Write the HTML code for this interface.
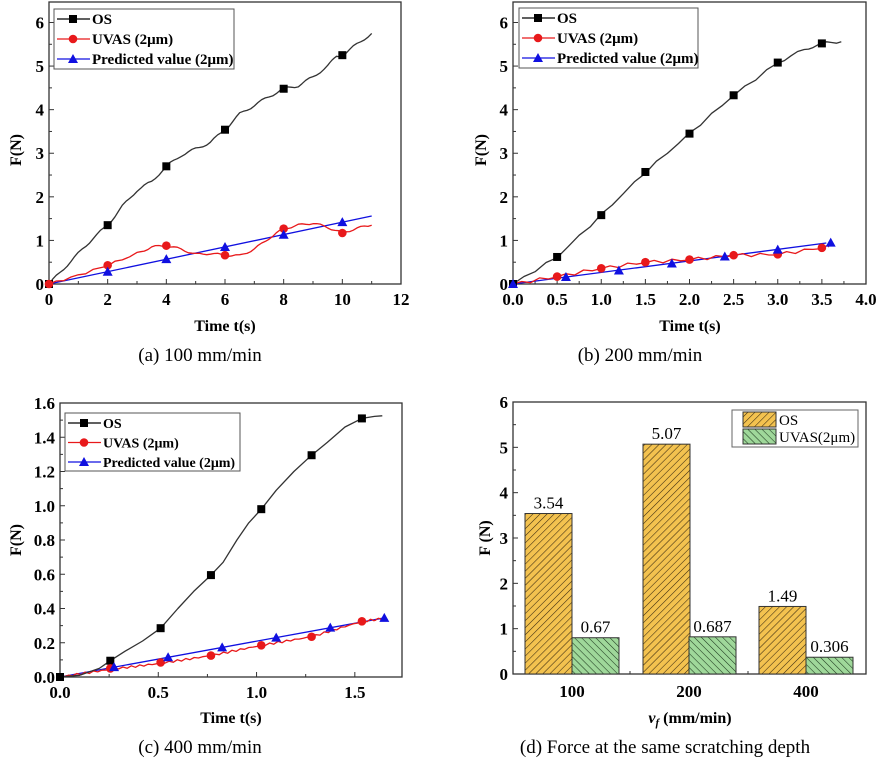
<!DOCTYPE html>
<html><head><meta charset="utf-8"><style>
body{margin:0;background:#fff;width:882px;height:782px;overflow:hidden}
svg{display:block}
text{font-family:"Liberation Serif",serif}
</style></head><body>
<svg id="s" width="882" height="782" xmlns="http://www.w3.org/2000/svg">
<defs>
<pattern id="po" patternUnits="userSpaceOnUse" width="5" height="5" patternTransform="rotate(45)"><rect width="5" height="5" fill="#f3c24f"/><line x1="0" y1="0" x2="0" y2="5" stroke="#3a2a10" stroke-width="1.1"/></pattern>
<pattern id="pu" patternUnits="userSpaceOnUse" width="5" height="5" patternTransform="rotate(-45)"><rect width="5" height="5" fill="#9fd89a"/><line x1="0" y1="0" x2="0" y2="5" stroke="#1f3a1f" stroke-width="1.1"/></pattern>
</defs>
</svg>
<script>
const S=document.getElementById('s');let h='';
function P(o){
 const {L,R,T,B,xmin,xmax,ymin,ymax,xt,yt,xdec,ydec,xminor}=o;
 const X=v=>L+(v-xmin)/(xmax-xmin)*(R-L), Y=v=>B-(v-ymin)/(ymax-ymin)*(B-T);
 h+=`<rect x="${L}" y="${T}" width="${R-L}" height="${B-T}" fill="none" stroke="#333" stroke-width="1.3"/>`;
 xt.forEach(v=>{const x=X(v);h+=`<line x1="${x}" y1="${B}" x2="${x}" y2="${B-5}" stroke="#333"/><text x="${x}" y="${B+21}" font-size="17" font-weight="bold" text-anchor="middle">${v.toFixed(xdec)}</text>`;});
 if(xminor)xt.slice(0,-1).forEach((v,i)=>{const x=X((v+xt[i+1])/2);h+=`<line x1="${x}" y1="${B}" x2="${x}" y2="${B-3}" stroke="#333"/>`;});
 yt.forEach(v=>{const y=Y(v);h+=`<line x1="${L}" y1="${y}" x2="${L+5}" y2="${y}" stroke="#333"/><text x="${L-5}" y="${y+6}" font-size="17" font-weight="bold" text-anchor="end">${v.toFixed(ydec)}</text>`;});
 yt.slice(0,-1).forEach((v,i)=>{const y=Y((v+yt[i+1])/2);h+=`<line x1="${L}" y1="${y}" x2="${L+3}" y2="${y}" stroke="#333"/>`;});
 return [X,Y];
}
function line(X,Y,pts,c,w){h+=`<polyline fill="none" stroke="${c}" stroke-width="${w||1.3}" stroke-linejoin="round" points="${pts.map(p=>X(p[0]).toFixed(1)+','+Y(p[1]).toFixed(1)).join(' ')}"/>`;}
function mk(x,y,t){if(t==0)h+=`<rect x="${x-4}" y="${y-4}" width="8" height="8" fill="#000"/>`;else if(t==1)h+=`<circle cx="${x}" cy="${y}" r="4.3" fill="#e8191b"/>`;else h+=`<polygon points="${x},${y-5} ${x-5},${y+4} ${x+5},${y+4}" fill="#1010e0"/>`;}
function mks(X,Y,pts,t){pts.forEach(p=>mk(X(p[0]),Y(p[1]),t));}
function legend(x,y,w,hh,dy,fs){
 h+=`<rect x="${x}" y="${y}" width="${w}" height="${hh}" fill="#fff" stroke="#555"/>`;
 const lab=['OS','UVAS (2μm)','Predicted value (2μm)'],col=['#000','#e8191b','#1010e0'];
 lab.forEach((l,i)=>{const yy=y+10+i*dy;h+=`<line x1="${x+3}" y1="${yy}" x2="${x+36}" y2="${yy}" stroke="${col[i]}" stroke-width="1.3"/>`;mk(x+19,yy,i);h+=`<text x="${x+38}" y="${yy+5}" font-size="${fs}" font-weight="bold" textLength="${i==0?'':''}">${l}</text>`;});
}
function wav(pts,amp,per,n){const o=[];for(let i=0;i<pts.length-1;i++){const [a,b]=[pts[i],pts[i+1]];for(let k=0;k<n;k++){const t=k/n,x=a[0]+(b[0]-a[0])*t;o.push([x,a[1]+(b[1]-a[1])*t+amp*Math.sin(x*per)]);}}o.push(pts[pts.length-1]);return o;}
let [X,Y]=P({L:49,R:401,T:2,B:284,xmin:0,xmax:12,ymin:0,ymax:6.47,xt:[0,2,4,6,8,10,12],yt:[0,1,2,3,4,5,6],xdec:0,ydec:0,xminor:1});
line(X,Y,[[0,0],[11,1.56]],'#1010e0');
line(X,Y,wav([[0,0],[1,0.2],[2,0.43],[3,0.7],[3.5,0.85],[4,0.88],[4.5,0.8],[5,0.68],[5.5,0.7],[6,0.66],[6.5,0.65],[7,0.8],[7.5,1.05],[8,1.27],[8.5,1.35],[9,1.4],[9.5,1.3],[10,1.17],[10.5,1.28],[11,1.35]],0.025,9,4),'#e8191b');
line(X,Y,wav([[0,0],[0.5,0.35],[1,0.7],[1.5,1.05],[2,1.35],[2.5,1.78],[3,2.15],[3.5,2.35],[4,2.7],[4.5,2.95],[5,3.1],[5.5,3.25],[6,3.54],[6.5,3.9],[7,4.1],[7.5,4.3],[8,4.48],[8.5,4.55],[9,4.75],[9.5,5.0],[9.8,5.22],[10,5.25],[10.5,5.5],[11,5.75]],0.03,8,4),'#333');
mks(X,Y,[[0,0],[2,1.35],[4,2.7],[6,3.54],[8,4.48],[10,5.25]],0);
mks(X,Y,[[0,0],[2,0.43],[4,0.88],[6,0.66],[8,1.27],[10,1.17]],1);
mks(X,Y,[[2,0.28],[4,0.57],[6,0.85],[8,1.13],[10,1.42]],2);
legend(54,9,180,60,20,15);
[X,Y]=P({L:513,R:866,T:2,B:284,xmin:0,xmax:4,ymin:0,ymax:6.47,xt:[0,0.5,1,1.5,2,2.5,3,3.5,4],yt:[0,1,2,3,4,5,6],xdec:1,ydec:0,xminor:1});
line(X,Y,[[0,0],[3.55,0.94]],'#1010e0');
line(X,Y,wav([[0,0],[0.5,0.17],[1,0.36],[1.5,0.5],[2,0.56],[2.5,0.66],[3,0.68],[3.5,0.83],[3.58,0.85]],0.04,25,5),'#e8191b');
line(X,Y,wav([[0,0],[0.5,0.62],[1,1.58],[1.5,2.57],[2,3.45],[2.5,4.33],[3,5.08],[3.3,5.38],[3.5,5.52],[3.72,5.56]],0.03,20,4),'#333');
mks(X,Y,[[0,0],[0.5,0.62],[1,1.58],[1.5,2.57],[2,3.45],[2.5,4.33],[3,5.08],[3.5,5.52]],0);
mks(X,Y,[[0.5,0.17],[1,0.36],[1.5,0.5],[2,0.56],[2.5,0.66],[3,0.68],[3.5,0.83]],1);
mks(X,Y,[[0,0],[0.6,0.16],[1.2,0.31],[1.8,0.47],[2.4,0.63],[3,0.79],[3.6,0.95]],2);
legend(519,8,179,60,20,15);
[X,Y]=P({L:60,R:402,T:403,B:677,xmin:0,xmax:1.74,ymin:0,ymax:1.6,xt:[0,0.5,1,1.5],yt:[0,0.2,0.4,0.6,0.8,1,1.2,1.4,1.6],xdec:1,ydec:1,xminor:1});
line(X,Y,[[0,0],[1.65,0.345]],'#1010e0');
line(X,Y,wav([[0,0],[0.256,0.045],[0.512,0.08],[0.768,0.125],[1.024,0.185],[1.28,0.235],[1.536,0.325],[1.64,0.34]],0.006,160,12),'#e8191b');
line(X,Y,[[0,0],[0.1,0.01],[0.2,0.05],[0.256,0.095],[0.33,0.15],[0.42,0.21],[0.512,0.285],[0.6,0.4],[0.68,0.5],[0.768,0.595],[0.83,0.67],[0.9,0.8],[0.96,0.9],[1.024,0.98],[1.1,1.09],[1.19,1.2],[1.28,1.295],[1.36,1.37],[1.45,1.46],[1.536,1.51],[1.6,1.522],[1.64,1.525]],'#333');
mks(X,Y,[[0,0],[0.256,0.095],[0.512,0.285],[0.768,0.595],[1.024,0.98],[1.28,1.295],[1.536,1.51]],0);
mks(X,Y,[[0.256,0.05],[0.512,0.085],[0.768,0.125],[1.024,0.185],[1.28,0.235],[1.536,0.325]],1);
mks(X,Y,[[0.275,0.058],[0.55,0.115],[0.825,0.173],[1.1,0.23],[1.375,0.288],[1.65,0.345]],2);
legend(65,413,175,58,19.5,14);
[X,Y]=P({L:513,R:866,T:402,B:674,xmin:0,xmax:1,ymin:0,ymax:6,xt:[],yt:[0,1,2,3,4,5,6],xdec:0,ydec:0});
const bars=[[525,3.54,'3.54','po'],[572,0.8,'0.67','pu'],[643,5.07,'5.07','po'],[689,0.82,'0.687','pu'],[759,1.49,'1.49','po'],[806,0.37,'0.306','pu']];
bars.forEach(b=>{const y=Y(b[1]);h+=`<rect x="${b[0]}" y="${y}" width="47" height="${674-y}" fill="url(#${b[3]})" stroke="#333"/><text x="${b[0]+23.5}" y="${y-5}" font-size="17" text-anchor="middle">${b[2]}</text>`;});
[[572,'100'],[689,'200'],[806,'400']].forEach(t=>{h+=`<line x1="${t[0]}" y1="674" x2="${t[0]}" y2="669" stroke="#333"/><text x="${t[0]}" y="697" font-size="17" font-weight="bold" text-anchor="middle">${t[1]}</text>`;});
[630,748].forEach(x=>h+=`<line x1="${x}" y1="674" x2="${x}" y2="671" stroke="#333"/>`);
h+=`<rect x="732" y="410" width="126" height="37" fill="#fff" stroke="#666"/><rect x="743" y="412" width="33" height="15" fill="url(#po)" stroke="#333"/><rect x="743" y="429" width="33" height="15" fill="url(#pu)" stroke="#333"/><text x="779" y="425" font-size="15">OS</text><text x="779" y="442" font-size="15">UVAS(2μm)</text>`;
const ft=(x,y)=>`<text transform="translate(${x},${y}) rotate(-90)" font-size="16" font-weight="bold" text-anchor="middle">F(N)</text>`;
h+=ft(21,150)+ft(486,150)+ft(21,540)+`<text transform="translate(490,538) rotate(-90)" font-size="16" font-weight="bold" text-anchor="middle">F (N)</text>`;
h+=`<text x="225" y="331" font-size="16" font-weight="bold" text-anchor="middle">Time t(s)</text><text x="690" y="331" font-size="16" font-weight="bold" text-anchor="middle">Time t(s)</text><text x="231" y="723" font-size="16" font-weight="bold" text-anchor="middle">Time t(s)</text>`;
h+=`<text x="690" y="723" font-size="16" font-weight="bold" text-anchor="middle"><tspan font-style="italic">v</tspan><tspan font-style="italic" font-size="11" dy="3">f</tspan><tspan dy="-3"> (mm/min)</tspan></text>`;
h+=`<text x="200" y="361" font-size="19" text-anchor="middle">(a) 100 mm/min</text><text x="640" y="361" font-size="19" text-anchor="middle">(b) 200 mm/min</text><text x="200" y="753" font-size="19" text-anchor="middle">(c) 400 mm/min</text><text x="665" y="753" font-size="19" text-anchor="middle">(d) Force at the same scratching depth</text>`;
S.insertAdjacentHTML('beforeend',h);
</script>
</body></html>
